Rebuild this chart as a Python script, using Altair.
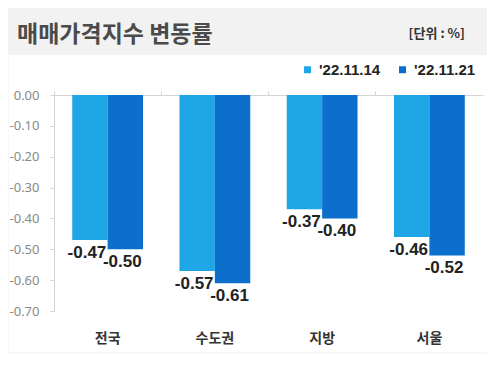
import altair as alt
import pandas as pd

regions = ["전국", "수도권", "지방", "서울"]
series = ["'22.11.14", "'22.11.21"]
values_1114 = [-0.47, -0.57, -0.37, -0.46]
values_1121 = [-0.50, -0.61, -0.40, -0.52]
y_ticks = [0.0, -0.1, -0.2, -0.3, -0.4, -0.5, -0.6, -0.7]
colors = ["#1ea6e6", "#0b6fcb"]

title_text = "매매가격지수 변동률"
unit_text = "[단위 : %]"

rows = []
for r, a, b in zip(regions, values_1114, values_1121):
    rows.append({"region": r, "series": series[0], "value": a})
    rows.append({"region": r, "series": series[1], "value": b})
df = pd.DataFrame(rows)
df["label"] = df["value"].map(lambda v: "-" + f"{abs(v):.2f}")

KFONT = "Noto Sans CJK KR"
NFONT = "Liberation Sans"

xscale = alt.Scale(domain=regions, paddingInner=0.34, paddingOuter=0.17)
xoff = alt.XOffset("series:N", sort=series, scale=alt.Scale(domain=series, paddingInner=0, paddingOuter=0))
yscale = alt.Scale(domain=[-0.7, 0], nice=False, zero=True)


def y_axis():
    return alt.Axis(values=y_ticks, title=None, grid=False, domainColor="#d4d4d4",
                    tickColor="#d4d4d4", tickSize=4, labelPadding=11,
                    labelOverlap=False, labelFlush=False,
                    labelColor="#888888", labelFontSize=13, labelFont="Noto Sans",
                    labelExpr="datum.value == 0 ? '0.00' : '-' + format(abs(datum.value), '.2f')")


bars = alt.Chart(df).mark_bar().encode(
    x=alt.X("region:N", sort=regions, scale=xscale,
            axis=alt.Axis(orient="top", labels=False, title=None, domainColor="#d4d4d4",
                          tickColor="#d4d4d4", tickSize=4, bandPosition=-0.255)),
    xOffset=xoff,
    y=alt.Y("value:Q", scale=yscale, axis=y_axis()),
    color=alt.Color("series:N", sort=series, scale=alt.Scale(domain=series, range=colors),
                    legend=alt.Legend(orient="none", legendX=246, legendY=-33, direction="horizontal",
                                      title=None, symbolType="square", symbolSize=49,
                                      symbolStrokeWidth=0, labelFont="Liberation Sans",
                                      labelFontSize=15, labelFontWeight="bold", labelColor="#222222",
                                      columnPadding=14, labelOffset=4, padding=0)),
)

labels = alt.Chart(df).mark_text(baseline="top", dy=5, dx=-3, fontSize=17, fontWeight="bold",
                                 font=NFONT, color="#222222").encode(
    x=alt.X("region:N", sort=regions, scale=xscale,
            axis=alt.Axis(orient="bottom", domain=False, ticks=False, labelPadding=20,
                          labelFontSize=14, labelFontWeight="bold", labelColor="#333333",
                          labelFont=KFONT, title=None, labelAngle=0)),
    xOffset=xoff,
    y=alt.Y("value:Q", scale=yscale, axis=y_axis()),
    text="label:N",
)

one = pd.DataFrame({"k": [0]})
band = alt.Chart(one).mark_rect(color="#f2f2f2").encode(
    x=alt.value(-46), x2=alt.value(434), y=alt.value(-87), y2=alt.value(-40))
frame = alt.Chart(one).mark_rect(fill=None, stroke="#f0f0f0", strokeWidth=1).encode(
    x=alt.value(-46), x2=alt.value(434), y=alt.value(-87), y2=alt.value(258))
title = alt.Chart(one).mark_text(align="left", baseline="alphabetic", fontSize=23, fontWeight="bold",
                                 font=KFONT, color="#4a4a4a").encode(
    x=alt.value(-37), y=alt.value(-53), text=alt.value(title_text))
unit = alt.Chart(one).mark_text(align="right", baseline="alphabetic", fontSize=13, fontWeight="bold",
                                font=KFONT, color="#333333").encode(
    x=alt.value(411), y=alt.value(-57), text=alt.value(unit_text))

chart = alt.layer(frame, band, title, unit, bars, labels).resolve_axis(x="independent").properties(
    width=429, height=216,
    padding={"left": 46, "top": 87, "right": 4, "bottom": 48},
    autosize=alt.AutoSizeParams(type="none"),
    background="white",
).configure_view(stroke=None)

chart.save("out.html", embed_options={"renderer": "svg", "actions": False})
